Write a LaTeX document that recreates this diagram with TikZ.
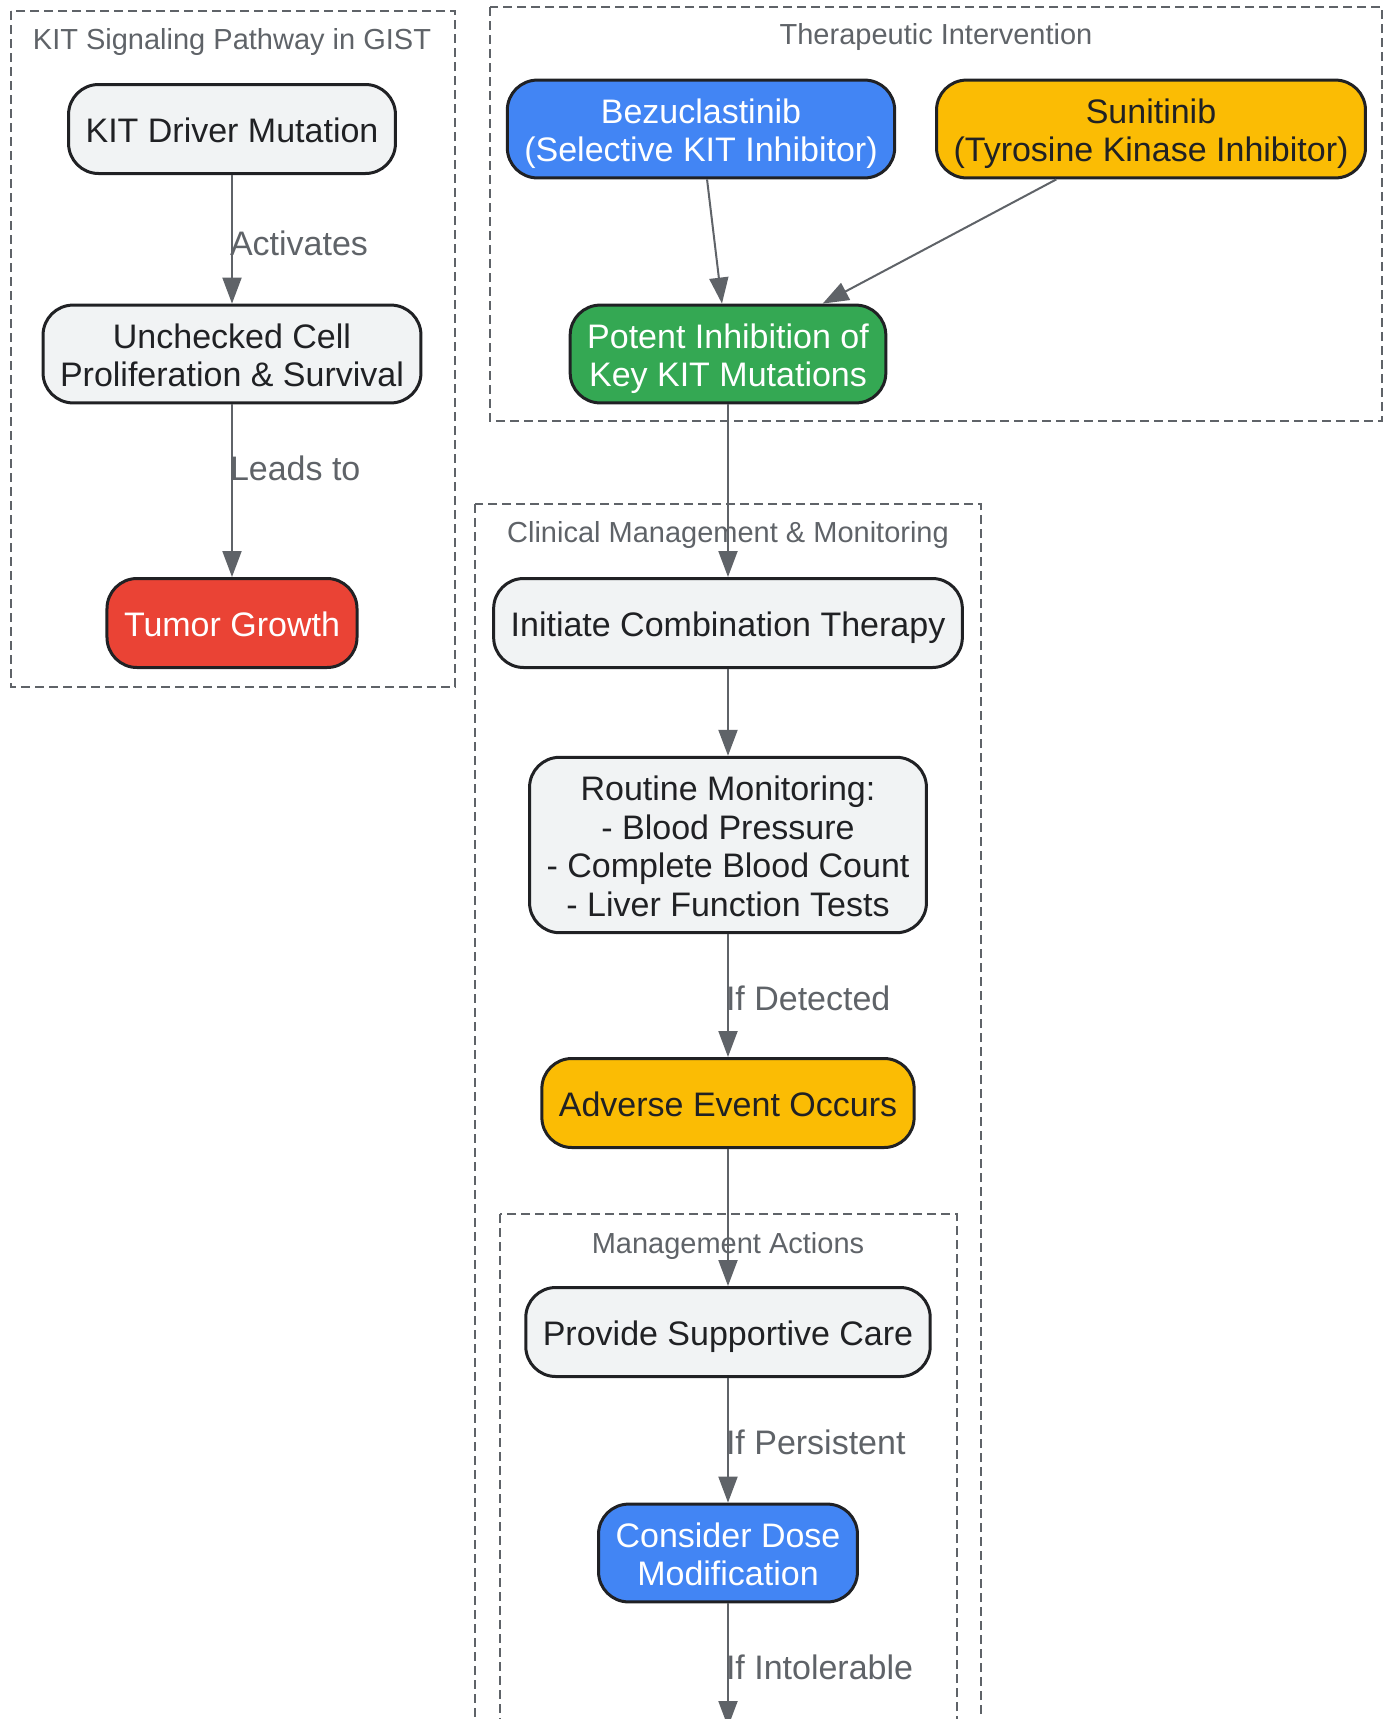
\documentclass[tikz,border=0pt]{standalone}
\usepackage{fontspec}
\setmainfont{Liberation Sans}
\usetikzlibrary{positioning,arrows.meta}
\definecolor{nodegrey}{HTML}{F1F3F4}
\definecolor{nodeline}{HTML}{202124}
\definecolor{nodetext}{HTML}{202124}
\definecolor{edgegrey}{HTML}{5F6368}
\definecolor{gblue}{HTML}{4285F4}
\definecolor{gyellow}{HTML}{FBBC04}
\definecolor{ggreen}{HTML}{34A853}
\definecolor{gred}{HTML}{EA4335}
\newcommand{\nodefont}{\fontsize{34}{38.8}\selectfont}
\newcommand{\titlefont}{\fontsize{29}{34}\selectfont}
\newcommand{\ts}{\rule{0pt}{35pt}}
\newcommand{\botstrut}{\rule[-8pt]{0pt}{8pt}}
\tikzset{
  box/.style       = {draw=nodeline, line width=3pt, rounded corners=30pt, align=center,
                      fill=nodegrey, text=nodetext, font=\nodefont,
                      inner xsep=17pt, inner ysep=8pt, minimum height=89pt,
                      execute at end node=\botstrut},
  bluebox/.style   = {box, fill=gblue, text=white},
  yellowbox/.style = {box, fill=gyellow},
  greenbox/.style  = {box, fill=ggreen, text=white},
  redbox/.style    = {box, fill=gred, text=white},
  cluster/.style   = {draw=edgegrey, line width=2.5pt, dash pattern=on 9pt off 5pt},
  ctitle/.style    = {text=edgegrey, font=\titlefont, inner sep=0pt, anchor=base},
  arrow/.style     = {-{Triangle[length=26pt,width=19pt]}, draw=edgegrey, line width=2pt},
  elabel/.style    = {anchor=west, inner sep=0pt, xshift=-3pt, text=edgegrey, font=\nodefont},
}

\begin{document}
\begin{tikzpicture}[x=1pt,y=-1pt]
  \useasboundingbox (0,0) rectangle (1391,1719);
  \clip (0,0) rectangle (1391,1719);

  % subgraph frames
  \draw[cluster] (11,11) rectangle (455,687);
  \node[ctitle] (t1) at (232,49) {KIT Signaling Pathway in GIST};
  \draw[cluster] (490,7) rectangle (1382,421);
  \node[ctitle] (t2) at (936,44) {Therapeutic Intervention};
  \draw[cluster] (475,504) rectangle (981,1780);
  \node[ctitle] (t3) at (728,542) {Clinical Management \& Monitoring};
  \draw[cluster] (500,1214) rectangle (957,1780);
  \node[ctitle] (t4) at (728,1253) {Management Actions};

  % pathway
  \node[box] (kit) at (232,129) {\ts KIT Driver Mutation};
  \node[box] (prolif) at (232,354) {\ts Unchecked Cell\\Proliferation \& Survival};
  \node[redbox] (tumor) at (232,623) {\ts Tumor Growth};

  % drugs
  \node[bluebox] (bezu) at (701,129) {\ts Bezuclastinib\\(Selective KIT Inhibitor)};
  \node[yellowbox] (suni) at (1151,129) {\ts Sunitinib\\(Tyrosine Kinase Inhibitor)};
  \node[greenbox] (potent) at (728,354) {\ts Potent Inhibition of\\Key KIT Mutations};

  % clinical management
  \node[box] (init) at (728,623) {\ts Initiate Combination Therapy};
  \node[box] (monitor) at (728,845) {\ts Routine Monitoring:\\- Blood Pressure\\- Complete Blood Count\\- Liver Function Tests};
  \node[yellowbox] (adverse) at (728,1103) {\ts Adverse Event Occurs};
  \node[box] (support) at (728,1332) {\ts Provide Supportive Care};
  \node[bluebox] (dose) at (728,1553) {\ts Consider Dose\\Modification};
  \coordinate (below) at (728,1727);

  \draw[arrow] (kit) -- node[elabel, pos=0.53] {Activates} (prolif);
  \draw[arrow] (prolif) -- node[elabel, pos=0.37] {Leads to} (tumor);
  \draw[arrow] (bezu) -- (potent);
  \draw[arrow] (suni) -- (potent);
  \draw[arrow] (potent) -- (init);
  \draw[arrow] (init) -- (monitor);
  \draw[arrow] (monitor) -- node[elabel, pos=0.52] {If Detected} (adverse);
  \draw[arrow] (adverse) -- (support);
  \draw[arrow] (support) -- node[elabel, pos=0.52] {If Persistent} (dose);
  \draw[arrow] (dose) -- node[elabel, pos=0.52] {If Intolerable} (below);
\end{tikzpicture}
\end{document}
